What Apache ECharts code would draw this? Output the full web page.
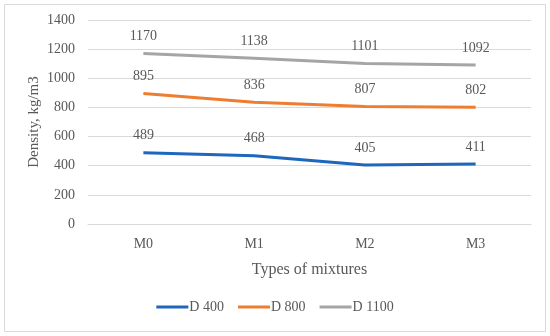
<!DOCTYPE html>
<html><head><meta charset="utf-8">
<script src="https://cdn.jsdelivr.net/npm/echarts@6/dist/echarts.min.js"></script>
<style>html,body{margin:0;padding:0;background:#fff}#c{width:550px;height:336px}</style>
</head><body><div id="c"></div>
<script>
const categories = ['M0','M1','M2','M3'];
const d400 = [489,468,405,411];
const d800 = [895,836,807,802];
const d1100 = [1170,1138,1101,1092];
const yTicks = [0,200,400,600,800,1000,1200,1400];

const font = '"Liberation Serif", "DejaVu Serif", serif';
const txt = '#595959';
function ser(name, data, color){
  return {name, type:'line', data, symbol:'circle', symbolSize:0.1, showSymbol:true, smooth:false,
    lineStyle:{width:3, color}, itemStyle:{color},
    label:{show:true, position:'top', distance:10, color:txt, fontFamily:font, fontSize:14}};
}
const chart = echarts.init(document.getElementById('c'));
chart.setOption({
  animation:false,
  graphic:[{type:'rect', shape:{x:4.5,y:4.5,width:541,height:327}, style:{fill:'none', stroke:'#d9d9d9', lineWidth:1}}],
  grid:{left:88, right:19, top:20, bottom:112},
  xAxis:{type:'category', data:categories, boundaryGap:true,
    axisLine:{lineStyle:{color:'#d9d9d9'}}, axisTick:{show:false},
    axisLabel:{color:txt, fontFamily:font, fontSize:14, margin:13},
    name:'Types of mixtures', nameLocation:'middle', nameGap:38,
    nameTextStyle:{color:txt, fontFamily:font, fontSize:16}},
  yAxis:{type:'value', min:yTicks[0], max:yTicks[yTicks.length-1], interval:200,
    axisLine:{show:false}, axisTick:{show:false},
    splitLine:{lineStyle:{color:'#d9d9d9'}},
    axisLabel:{color:txt, fontFamily:font, fontSize:14, margin:13, formatter:v=>String(v)},
    name:'Density, kg/m3', nameLocation:'middle', nameGap:46, nameMoveOverlap:false,
    nameTextStyle:{color:txt, fontFamily:font, fontSize:15}},
  legend:{bottom:17, left:'center', itemWidth:32, itemHeight:3, itemGap:14, icon:'rect',
    textStyle:{color:txt, fontFamily:font, fontSize:14, padding:[0,0,0,-4]}},
  series:[ser('D 400', d400, '#1f66bd'), ser('D 800', d800, '#ed7d31'), ser('D 1100', d1100, '#a5a5a5')]
});
</script></body></html>
